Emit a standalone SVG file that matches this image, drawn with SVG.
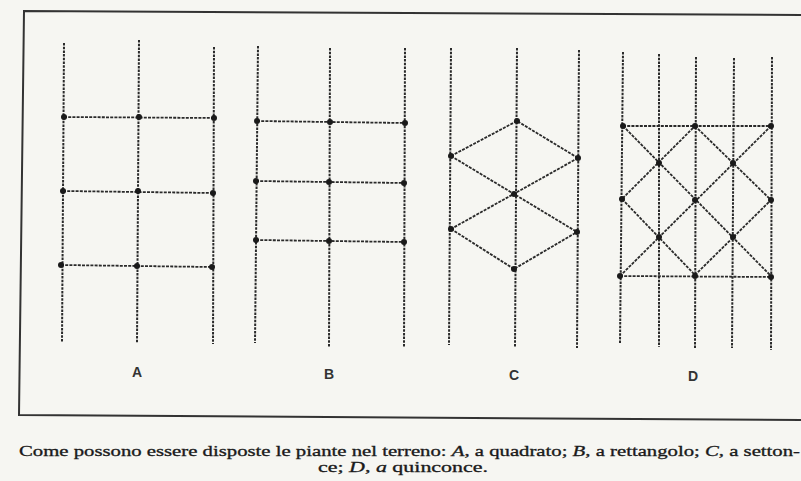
<svg xmlns="http://www.w3.org/2000/svg" width="801" height="481" viewBox="0 0 801 481">
<style>
.v{stroke:#2a2a2a;stroke-width:2;stroke-dasharray:2.5 1.2;fill:none}
.h{stroke:#2a2a2a;stroke-width:1.8;stroke-dasharray:3 1.2;fill:none}
.d{fill:#1a1a1a}
.lbl{font-family:"Liberation Sans",Arial,sans-serif;font-size:14px;font-weight:bold;fill:#333;text-anchor:middle}
.cap{font-family:"Liberation Serif","Times New Roman",serif;font-size:14px;fill:#1a1a1a;stroke:#1a1a1a;stroke-width:0.3}
</style>
<rect width="801" height="481" fill="#f6f6f2"/>
<path d="M801,15 L24,11 L19,415 L801,420" fill="none" stroke="#333" stroke-width="2"/>
<g id="connectors">
<g id="A-lines">
<line class="v" x1="64" y1="43" x2="62" y2="342"/>
<line class="v" x1="139" y1="40" x2="137" y2="343"/>
<line class="v" x1="214" y1="47" x2="213" y2="344"/>
<line class="h" x1="64" y1="117" x2="214" y2="118"/>
<line class="h" x1="63" y1="191" x2="213" y2="193"/>
<line class="h" x1="61" y1="265" x2="212" y2="267"/>
</g>
<g id="B-lines">
<line class="v" x1="258" y1="46" x2="255" y2="343"/>
<line class="v" x1="330" y1="48" x2="329" y2="347"/>
<line class="v" x1="405" y1="48" x2="404" y2="347"/>
<line class="h" x1="257" y1="121" x2="405" y2="123"/>
<line class="h" x1="256" y1="181" x2="404" y2="183"/>
<line class="h" x1="256" y1="240" x2="404" y2="242"/>
</g>
<g id="C-lines">
<line class="v" x1="451" y1="48" x2="449" y2="345"/>
<line class="v" x1="517" y1="48" x2="515" y2="347"/>
<line class="v" x1="579" y1="50" x2="577" y2="348"/>
<polyline class="h" points="451,156 517,121 578,158"/>
<line class="h" x1="451" y1="156" x2="577" y2="232"/>
<line class="h" x1="578" y1="158" x2="451" y2="229"/>
<polyline class="h" points="451,229 514,269 577,232"/>
</g>
<g id="D-lines">
<line class="v" x1="623" y1="52" x2="620" y2="343"/>
<line class="v" x1="659" y1="54" x2="659" y2="347"/>
<line class="v" x1="696" y1="57" x2="695" y2="348"/>
<line class="v" x1="734" y1="58" x2="732" y2="348"/>
<line class="v" x1="772" y1="57" x2="771" y2="350"/>
<line class="h" x1="623" y1="126" x2="771" y2="126"/>
<line class="h" x1="620" y1="276" x2="771" y2="277"/>
<line class="h" x1="623" y1="126" x2="771" y2="276"/>
<line class="h" x1="771" y1="126" x2="620" y2="276"/>
<polygon class="h" points="695,126 771,200 695,275 622,199"/>
</g>
</g>
<g id="A" class="d">
<circle cx="64" cy="117" r="3"/><circle cx="139" cy="117" r="3"/><circle cx="214" cy="118" r="3"/>
<circle cx="63" cy="191" r="3"/><circle cx="138" cy="191" r="3"/><circle cx="213" cy="193" r="3"/>
<circle cx="61" cy="265" r="3"/><circle cx="137" cy="266" r="3"/><circle cx="212" cy="267" r="3"/>
<text class="lbl" x="137" y="377">A</text>
</g>
<g id="B" class="d">
<circle cx="257" cy="121" r="3"/><circle cx="330" cy="122" r="3"/><circle cx="405" cy="123" r="3"/>
<circle cx="256" cy="181" r="3"/><circle cx="329" cy="182" r="3"/><circle cx="404" cy="183" r="3"/>
<circle cx="256" cy="240" r="3"/><circle cx="329" cy="241" r="3"/><circle cx="404" cy="242" r="3"/>
<text class="lbl" x="329" y="379">B</text>
</g>
<g id="C" class="d">
<circle cx="517" cy="121" r="3"/>
<circle cx="451" cy="156" r="3"/><circle cx="578" cy="158" r="3"/>
<circle cx="514" cy="194" r="3"/>
<circle cx="451" cy="229" r="3"/><circle cx="577" cy="232" r="3"/>
<circle cx="514" cy="269" r="3"/>
<text class="lbl" x="514" y="380">C</text>
</g>
<g id="D" class="d">
<circle cx="623" cy="126" r="3"/><circle cx="695" cy="126" r="3"/><circle cx="771" cy="126" r="3"/>
<circle cx="659" cy="163" r="3"/><circle cx="733" cy="163" r="3"/>
<circle cx="622" cy="199" r="3"/><circle cx="695" cy="200" r="3"/><circle cx="771" cy="200" r="3"/>
<circle cx="659" cy="237" r="3"/><circle cx="733" cy="237" r="3"/>
<circle cx="620" cy="276" r="3"/><circle cx="695" cy="276" r="3"/><circle cx="771" cy="277" r="3"/>
<text class="lbl" x="693" y="381">D</text>
</g>
<g id="caption">
<text class="cap" x="19" y="456" textLength="781" lengthAdjust="spacingAndGlyphs">Come possono essere disposte le piante nel terreno: <tspan font-style="italic">A</tspan>, a quadrato; <tspan font-style="italic">B</tspan>, a rettangolo; <tspan font-style="italic">C</tspan>, a setton-</text>
<text class="cap" x="318" y="472" textLength="170" lengthAdjust="spacingAndGlyphs">ce; <tspan font-style="italic">D</tspan>, <tspan font-style="italic">a</tspan> quinconce.</text>
</g>
</svg>
